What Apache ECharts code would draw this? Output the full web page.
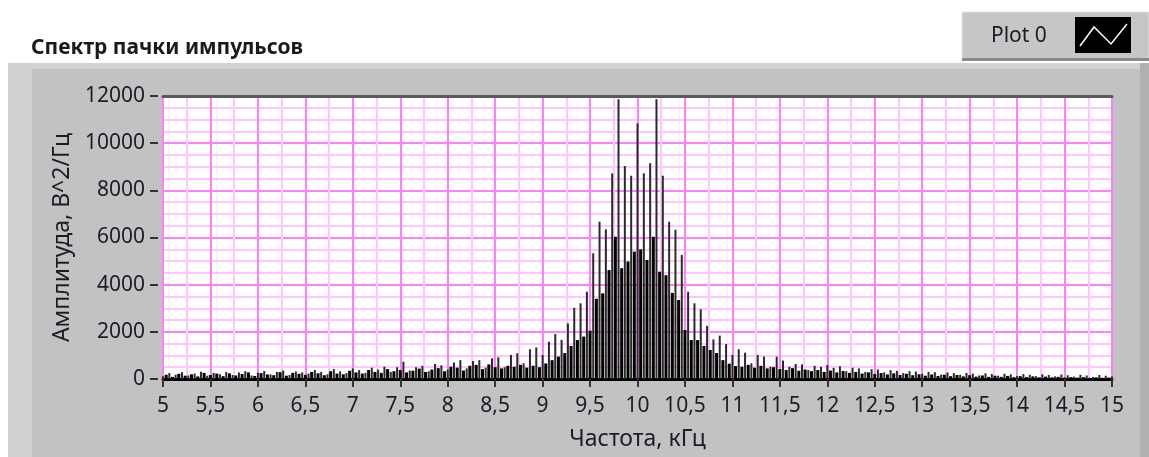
<!DOCTYPE html>
<html>
<head>
<meta charset="utf-8">
<script src="https://cdn.jsdelivr.net/npm/echarts@6/dist/echarts.min.js"></script>
<style>
html,body{margin:0;padding:0;background:#fff;}
#chart{width:1149px;height:457px;}
</style>
</head>
<body>
<div id="chart"></div>
<script>
// Spectrum comb: line frequencies f = f0 + i*df (kHz)
const f0 = 5;
const df = 1 / 15;
const xTicks = [5, 5.5, 6, 6.5, 7, 7.5, 8, 8.5, 9, 9.5, 10, 10.5, 11, 11.5, 12, 12.5, 13, 13.5, 14, 14.5, 15];
const yTicks = [0, 2000, 4000, 6000, 8000, 10000, 12000];

// main spectral lines (151 values, 5 .. 15 kHz)
const peakValues = [
  120, 250, 180, 290, 150, 230, 310, 140, 260, 200,
  300, 170, 280, 330, 150, 270, 340, 190, 300, 360,
  170, 320, 280, 230, 380, 300, 200, 420, 330, 250,
  450, 380, 260, 480, 400, 520, 300, 500, 735, 360,
  500, 560, 330, 640, 580, 400, 700, 800, 450, 760,
  800, 480,
  875, 920, 500, 1020, 1090, 665, 1260, 1340, 1020, 1580,
  1910, 1660, 2360, 3020, 3210, 3700, 5330, 6670, 6350, 8720,
  11860, 9030, 8620, 10840, 8720, 9150, 11860, 8620, 6670, 6330,
  5260, 3700, 3210, 2955, 2250, 1680, 1840, 1480, 1020, 1260,
  1115, 665, 1020, 950, 520, 950,
  780, 520, 640, 620, 380, 560, 520, 590, 470, 540,
  330, 480, 450, 300, 420, 400, 280, 380, 350, 250,
  330, 320, 220, 300, 290, 190, 280, 250, 180, 260,
  230, 150, 240, 210, 140, 220, 200, 130, 210, 180,
  120, 200, 170, 110, 190, 160, 100, 180, 150, 90,
  170, 140, 110
];

// dense side-lobe clusters between the main lines (150 values)
const clusterValues = [
  180, 90, 220, 140, 200, 110, 260, 170, 230, 120,
  240, 150, 210, 280, 130, 250, 190, 160, 290, 140,
  260, 220, 180, 300, 240, 160, 330, 230, 200, 350,
  280, 230, 380, 300, 260, 420, 330, 380, 280, 350,
  440, 300, 400, 460, 330, 520, 480, 360, 560, 600,
  420, 620, 500, 450, 560, 520, 600, 480, 560,
  500, 660, 800, 950, 1100, 1400, 1650, 1800, 2050, 3400,
  3630, 4620, 6030, 4700, 4980, 5400, 5500, 5050, 6030, 4550,
  4400, 3650, 3350, 2080, 1650, 1650, 1400, 1230, 1100, 800,
  650, 550,
  520, 600, 480, 560, 450, 500, 420, 380, 460, 350,
  400, 330, 380, 300, 360, 280, 340, 260, 300, 230,
  280, 210, 250, 190, 240, 170, 220, 160, 200, 140,
  190, 130, 180, 120, 170, 110, 160, 100, 150, 90,
  140, 90, 130, 80, 120, 80, 110, 70, 100, 70,
  90, 60, 80, 60, 80, 50, 70, 50, 60
];

const peakData = peakValues.map((v, i) => [f0 + i * df, v]);
const clusterData = clusterValues.map((v, i) => [f0 + (i + 0.5) * df, v]);

const FONT = 'Noto Sans';
const txt = '#1c1c28';
const majorGrid = '#FF80FF';
const minorGrid = '#FFC6FF';

const chart = echarts.init(document.getElementById('chart'), null, {renderer: 'canvas'});
chart.setOption({
  animation: false,
  backgroundColor: 'transparent',
  graphic: [
    {type: 'rect', z: -100, shape: {x: 8, y: 63, width: 1141, height: 394}, style: {fill: '#C2C2C2'}},
    {type: 'rect', z: -99, shape: {x: 8, y: 63, width: 1141, height: 6}, style: {fill: '#D3D3D3'}},
    {type: 'rect', z: -99, shape: {x: 8, y: 63, width: 24, height: 394}, style: {fill: '#D0D0D0'}},
    {type: 'rect', z: -99, shape: {x: 1140, y: 63, width: 9, height: 394}, style: {fill: '#B0B0B0'}},
    // legend box
    {type: 'rect', z: -98, shape: {x: 962, y: 12, width: 187, height: 47}, style: {fill: '#C6C6C6', stroke: '#E4E4E4', lineWidth: 1}},
    {type: 'rect', z: -97, shape: {x: 962, y: 58, width: 187, height: 3}, style: {fill: '#8A8A8A'}},
    {type: 'text', style: {x: 991, y: 36, text: 'Plot 0', fill: txt, font: '21px ' + FONT, textVerticalAlign: 'middle'}},
    {type: 'rect', shape: {x: 1075, y: 17, width: 56, height: 36}, style: {fill: '#000'}},
    {type: 'polyline', shape: {points: [[1080, 46], [1094, 27], [1111, 44], [1127, 24]]}, style: {stroke: '#fff', lineWidth: 1.5, fill: null}}
  ],
  title: {
    text: 'Спектр пачки импульсов',
    left: 26, top: 33,
    textStyle: {fontFamily: FONT, fontWeight: 'bold', fontSize: 21, color: '#1a1a1a'}
  },
  grid: {
    left: 163, right: 37, top: 96, bottom: 78,
    show: true, backgroundColor: '#ffffff', borderWidth: 0
  },
  xAxis: [
    {
      type: 'value', min: 5, max: 15, interval: 0.5, position: 'bottom', offset: 5,
      name: 'Частота, кГц', nameLocation: 'middle', nameGap: 44,
      nameTextStyle: {fontFamily: FONT, fontSize: 23, color: txt},
      axisLine: {show: false},
      axisTick: {show: true, length: 8, lineStyle: {color: '#333', width: 2}},
      axisLabel: {fontFamily: FONT, fontSize: 21, color: txt, margin: 12,
        formatter: v => String(v).replace('.', ',')},
      splitLine: {show: true, lineStyle: {color: majorGrid, width: 2}},
      minorTick: {show: false, splitNumber: 2},
      minorSplitLine: {show: true, lineStyle: {color: minorGrid, width: 2}}
    },
    {
      type: 'value', min: 5, max: 15, position: 'top',
      axisLine: {show: true, lineStyle: {color: '#5a5a5a', width: 3}},
      axisTick: {show: false}, axisLabel: {show: false}, splitLine: {show: false}
    },
    {
      type: 'value', min: 5, max: 15, position: 'bottom', offset: 0,
      axisLine: {show: true, lineStyle: {color: '#000', width: 3}},
      axisTick: {show: false}, axisLabel: {show: false}, splitLine: {show: false}
    }
  ],
  yAxis: {
    type: 'value', min: 0, max: 12000, interval: 2000, offset: 5,
    name: 'Амплитуда, В^2/Гц', nameLocation: 'middle', nameGap: 81,
    nameTextStyle: {fontFamily: FONT, fontSize: 23, color: txt},
    axisLine: {show: false},
    axisTick: {show: true, length: 8, lineStyle: {color: '#333', width: 2}},
    axisLabel: {fontFamily: FONT, fontSize: 21, color: txt, margin: 13,
      formatter: v => String(v)},
    splitLine: {show: true, lineStyle: {color: majorGrid, width: 2}},
    minorTick: {show: false, splitNumber: 4},
    minorSplitLine: {show: true, lineStyle: {color: minorGrid, width: 2}}
  },
  series: [
    {
      name: 'Plot 0', type: 'bar', xAxisIndex: 1, barWidth: 3,
      itemStyle: {color: '#000'}, data: clusterData, silent: true
    },
    {
      name: 'Plot 0', type: 'bar', xAxisIndex: 0, barWidth: 2,
      itemStyle: {color: '#2a2a2a'}, data: peakData, silent: true
    }
  ]
});
</script>
</body>
</html>
